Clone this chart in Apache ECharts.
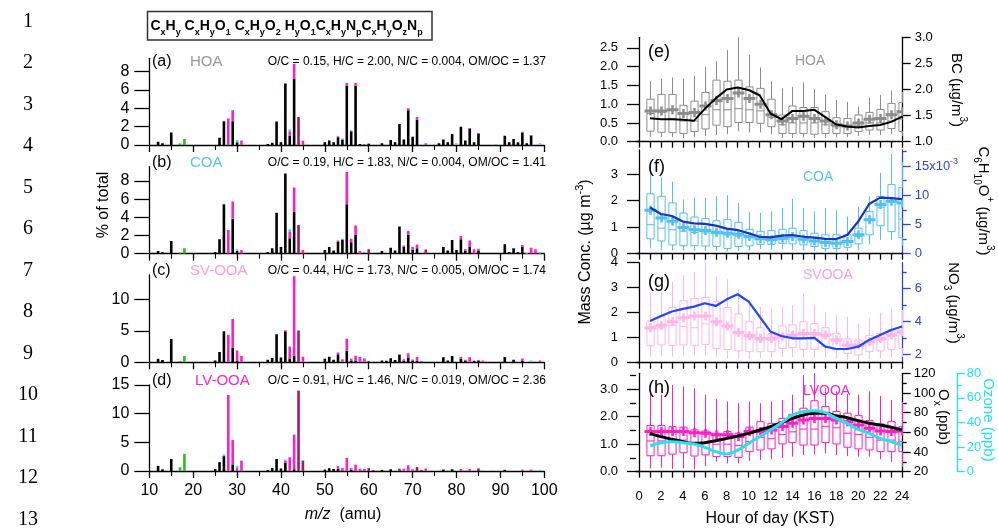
<!DOCTYPE html>
<html>
<head>
<meta charset="utf-8">
<script src="https://cdn.jsdelivr.net/npm/echarts@6/dist/echarts.min.js"></script>
<style>
  html, body { margin: 0; padding: 0; background: #fff; }
  #chart { width: 998px; height: 529px; }
</style>
</head>
<body>
<div id="chart"></div>
<script>
// ---------- Mass spectra: fraction of total signal (%) per m/z, by ion family ----------
const mzTickLabels = [10, 20, 30, 40, 50, 60, 70, 80, 90, 100];

// HOA
const hoaCxHy = [[12,0.35],[13,0.2],[15,1.35],[26,0.8],[27,2.6],[29,2.6],[30,0.3],[37,0.1],[38,0.25],[39,2.55],[40,0.3],[41,6.65],[42,1.0],[43,7.2],[50,0.3],[51,0.5],[52,0.3],[53,0.85],[54,0.6],[55,6.45],[56,1.5],[57,6.45],[58,0.1],[60,0.1],[63,0.2],[65,0.55],[66,0.3],[67,2.3],[68,0.6],[69,3.8],[70,0.9],[71,2.75],[76,0.2],[77,0.6],[78,0.3],[79,1.2],[81,2.0],[82,0.5],[83,1.75],[84,0.3],[85,1.25],[91,1.0],[92,0.3],[93,0.65],[94,0.3],[95,1.35],[96,0.2],[97,1.05]];
const hoaCxHyO1 = [[28,2.9],[29,1.2],[31,0.5],[41,0.1],[42,0.5],[43,1.65],[45,0.45],[53,0.1],[55,0.3],[57,0.3],[59,0.1],[69,0.2],[71,0.3],[73,0.2],[83,0.1],[85,0.05],[95,0.1]];
const hoaCxHyO2 = [[44,3.05],[60,0.05]];
const hoaHyO1 = [[47,0.05]];
const hoaCxHyNp = [[17,0.15],[18,0.65]];
const hoaCxHyOzNp = [[27,0.05],[30,0.25],[42,0.2],[46,0.05],[54,0.1],[56,0.1],[80,0.2],[89,0.1],[97,0.05],[99,0.2]];

// COA
const coaCxHy = [[12,0.3],[13,0.15],[15,1.4],[25,0.2],[26,1.6],[27,5.45],[29,3.85],[30,0.3],[37,0.2],[38,0.6],[39,4.5],[40,0.75],[41,8.8],[42,1.7],[43,4.6],[50,0.4],[51,0.75],[52,0.35],[53,1.35],[54,1.55],[55,5.45],[56,1.25],[57,2.1],[59,0.1],[63,0.3],[65,0.65],[66,0.35],[67,3.0],[68,0.75],[69,2.1],[70,0.45],[71,0.6],[77,0.75],[78,0.35],[79,1.5],[80,0.4],[81,1.6],[82,0.3],[83,0.8],[85,0.3],[89,0.05],[91,1.05],[92,0.2],[93,0.6],[94,0.15],[95,0.75]];
const coaCxHyO1 = [[28,2.6],[29,1.9],[31,0.4],[41,0.1],[42,0.7],[43,2.7],[45,0.4],[53,0.1],[55,3.55],[56,0.4],[57,1.0],[58,0.3],[68,0.15],[69,0.4],[70,0.3],[71,0.4],[81,0.35],[82,0.2],[83,0.65],[84,0.5],[85,0.25],[95,0.2],[97,0.65],[98,0.5]];
const coaCxHyO2 = [[44,3.15],[60,0.5],[73,0.45]];
const coaHyO1 = [[96,0.2]];
const coaCxHyNp = [[17,0.1],[18,0.6]];
const coaCxHyOzNp = [[27,0.05],[30,0.2],[42,0.3],[54,0.1],[99,0.1]];

// SV-OOA
const svCxHy = [[12,0.55],[13,0.35],[15,3.7],[25,0.3],[26,1.65],[27,4.95],[29,2.35],[30,0.3],[37,0.4],[38,0.7],[39,4.45],[40,0.75],[41,4.95],[42,0.6],[43,1.0],[50,0.55],[51,0.9],[52,0.4],[53,1.3],[55,1.85],[56,0.3],[57,0.3],[63,0.3],[64,0.25],[65,0.65],[66,0.35],[67,1.2],[68,0.3],[69,0.75],[70,0.3],[71,0.3],[77,0.8],[78,0.3],[79,1.0],[81,0.6],[82,0.2],[84,0.25],[85,0.2],[91,0.85],[93,0.4],[95,0.2]];
const svCxHyO1 = [[28,4.4],[29,4.55],[30,1.55],[31,1.0],[41,0.15],[42,1.85],[43,12.7],[45,0.9],[53,0.25],[54,0.5],[55,1.9],[56,0.25],[57,0.75],[58,0.85],[59,0.6],[67,0.1],[68,0.2],[69,0.7],[70,0.15],[71,0.55],[81,0.3],[82,0.2],[83,0.8],[85,0.15],[86,0.3],[95,0.4],[99,0.3]];
const svCxHyO2 = [[44,5.05],[60,0.2],[72,0.15]];
const svHyO1 = [[46,0.2],[96,0.2]];
const svCxHyNp = [[17,0.2],[18,1.0]];
const svCxHyOzNp = [[30,0.05],[42,0.1],[43,0.1],[44,0.1],[97,0.3]];

// LV-OOA
const lvCxHy = [[12,0.9],[13,0.3],[15,2.1],[25,0.35],[26,1.55],[27,2.6],[29,1.15],[37,0.15],[38,0.5],[39,2.1],[40,0.45],[41,1.4],[43,0.3],[50,0.25],[51,0.5],[52,0.35],[53,0.4],[56,0.2],[63,0.2],[65,0.3],[77,0.25],[79,0.3],[91,0.2]];
const lvCxHyO1 = [[28,13.25],[29,4.25],[30,0.5],[31,1.8],[41,0.45],[42,2.4],[43,6.0],[53,0.45],[54,0.5],[55,2.3],[56,0.3],[57,1.1],[58,0.4],[59,0.35],[68,0.4],[69,1.0],[70,0.3],[73,0.45],[81,0.35],[83,0.35],[95,0.25],[97,0.25]];
const lvCxHyO2 = [[44,14.0],[45,1.8],[60,0.5],[61,0.15],[67,0.4],[71,0.7],[72,0.2],[85,0.45]];
const lvHyO1 = [[46,0.2],[75,0.15],[87,0.15],[89,0.15]];
const lvCxHyNp = [[17,0.65],[18,3.0]];
const lvCxHyOzNp = [[27,0.3],[30,0.4],[41,0.15],[43,0.1],[44,0.1],[45,0.1],[99,0.2]];

const factorNames = ['HOA', 'COA', 'SV-OOA', 'LV-OOA'];
const ratioTexts = [
  'O/C = 0.15, H/C = 2.00, N/C = 0.004, OM/OC = 1.37',
  'O/C = 0.19, H/C = 1.83, N/C = 0.004, OM/OC = 1.41',
  'O/C = 0.44, H/C = 1.73, N/C = 0.005, OM/OC = 1.74',
  'O/C = 0.91, H/C = 1.46, N/C = 0.019, OM/OC = 2.36'
];

// ---------- Diurnal cycles (hour of day, KST) ----------
const hours = [1,2,3,4,5,6,7,8,9,10,11,12,13,14,15,16,17,18,19,20,21,22,23,24];
const hourTickLabels = [0,2,4,6,8,10,12,14,16,18,20,22,24];

// HOA (µg m-3) and BC (µg/m3)
const hoaP10  = [0.13,0.12,0.12,0.10,0.12,0.15,0.18,0.20,0.28,0.25,0.25,0.20,0.10,0.10,0.12,0.10,0.10,0.12,0.12,0.15,0.18,0.18,0.20,0.15];
const hoaP25  = [0.28,0.25,0.24,0.22,0.27,0.34,0.44,0.40,0.51,0.51,0.49,0.40,0.22,0.22,0.22,0.20,0.22,0.22,0.22,0.27,0.31,0.31,0.35,0.27];
const hoaMed  = [0.75,0.78,0.62,0.55,0.55,0.72,0.85,0.85,0.88,0.85,0.82,0.65,0.45,0.50,0.50,0.50,0.45,0.40,0.38,0.42,0.50,0.50,0.55,0.60];
const hoaP75  = [1.13,1.26,1.26,0.97,1.08,1.31,1.64,1.61,1.64,1.46,1.42,1.13,0.71,0.95,0.91,0.91,0.80,0.64,0.62,0.71,0.78,0.86,1.02,1.04];
const hoaP90  = [1.61,1.68,1.71,1.68,1.75,1.99,2.15,2.44,2.79,2.32,1.98,1.61,1.42,1.46,1.58,1.40,1.26,1.11,1.06,0.93,1.17,1.24,1.36,1.33];
const hoaMean = [0.82,0.82,0.85,0.75,0.78,0.95,1.10,1.15,1.30,1.15,1.00,0.72,0.55,0.62,0.68,0.62,0.55,0.45,0.42,0.50,0.60,0.62,0.72,0.80];
const bcConc  = [1.45,1.43,1.43,1.42,1.40,1.63,1.83,2.00,2.04,1.99,1.89,1.54,1.43,1.59,1.59,1.61,1.47,1.33,1.29,1.27,1.30,1.32,1.38,1.48];

// COA (µg m-3) and C6H10O+ (10^-3 µg/m3)
const coaP10  = [0.20,0.15,0.12,0.12,0.12,0.10,0.10,0.08,0.10,0.12,0.18,0.15,0.18,0.15,0.12,0.10,0.08,0.08,0.10,0.15,0.35,0.52,0.51,0.30];
const coaP25  = [0.56,0.48,0.33,0.30,0.30,0.29,0.27,0.20,0.27,0.29,0.35,0.35,0.39,0.37,0.33,0.27,0.20,0.20,0.24,0.37,0.71,1.05,0.83,0.60];
const coaMed  = [1.09,0.96,0.90,0.85,0.80,0.78,0.75,0.70,0.66,0.60,0.55,0.50,0.55,0.60,0.52,0.45,0.40,0.38,0.42,0.65,1.25,1.75,1.95,1.30];
const coaP75  = [2.25,2.16,1.91,1.53,1.38,1.32,1.24,1.28,1.18,0.92,0.84,0.87,0.92,0.96,0.87,0.77,0.71,0.71,0.71,0.96,1.59,2.16,2.60,2.48];
const coaP90  = [3.46,2.86,2.71,2.04,2.10,2.10,2.16,2.20,1.91,1.56,1.53,1.59,1.72,2.06,1.72,1.59,1.72,1.63,1.40,1.75,2.16,3.05,3.75,3.45];
const coaMean = [1.63,1.34,1.22,0.99,0.90,0.87,0.81,0.77,0.73,0.65,0.56,0.52,0.58,0.65,0.54,0.48,0.42,0.39,0.46,0.71,1.28,1.85,1.97,1.91];
const c6h10o  = [7.9,6.8,6.45,5.5,5.2,5.1,4.8,4.3,4.05,3.5,2.9,2.8,3.1,3.2,2.9,2.75,2.55,2.5,3.2,5.5,8.5,9.6,9.5,9.35];

// SVOOA (µg m-3) and NO3 (µg/m3)
const svP10  = [0.24,0.25,0.25,0.28,0.28,0.30,0.22,0.18,0.15,0.15,0.18,0.18,0.22,0.22,0.20,0.18,0.20,0.15,0.12,0.10,0.15,0.18,0.20,0.22];
const svP25  = [0.68,0.71,0.68,0.71,0.68,0.73,0.57,0.53,0.47,0.44,0.44,0.44,0.57,0.60,0.53,0.53,0.64,0.51,0.37,0.31,0.44,0.47,0.53,0.57];
const svMed  = [1.35,1.40,1.50,1.45,1.40,1.55,1.55,1.40,1.15,1.00,0.90,0.90,1.00,1.05,1.10,1.10,1.05,0.85,0.65,0.65,0.80,0.90,1.05,1.15];
const svP75  = [1.67,1.84,2.21,2.48,2.57,2.61,2.44,2.21,1.95,1.64,1.40,1.17,1.47,1.51,1.64,1.57,1.40,1.17,0.95,0.91,1.08,1.17,1.31,1.44];
const svP90  = [2.77,2.84,3.24,3.50,3.64,3.97,3.44,3.33,2.91,2.51,2.24,2.17,2.24,2.31,2.77,2.31,2.04,1.91,1.84,1.57,1.77,2.00,2.17,2.11];
const svMean = [1.40,1.50,1.64,1.80,1.87,1.87,1.64,1.47,1.21,1.08,0.97,0.97,1.04,1.11,1.17,1.17,1.11,0.91,0.71,0.71,0.84,0.97,1.11,1.24];
const no3    = [4.02,4.32,4.59,4.75,4.89,5.09,4.93,5.33,5.64,5.19,4.28,3.37,3.11,2.97,2.97,2.99,2.46,2.32,2.32,2.46,2.87,3.17,3.47,3.68];

// LVOOA (µg m-3), Ox and ozone (ppb)
const lvP10  = [0.12,0.15,0.10,0.12,0.10,0.20,0.36,0.30,0.30,0.40,0.43,0.45,0.50,0.55,0.60,0.62,0.67,0.60,0.57,0.55,0.55,0.45,0.36,0.18];
const lvP25  = [0.58,0.58,0.64,0.69,0.57,0.61,0.55,0.55,0.52,0.73,0.79,0.83,1.01,1.06,0.97,0.97,1.06,1.01,0.89,0.83,0.79,0.73,0.73,0.73];
const lvMed  = [1.12,1.12,1.15,1.15,1.05,1.05,1.00,1.00,0.95,1.10,1.25,1.20,1.35,1.45,1.55,1.55,1.65,1.60,1.40,1.35,1.25,1.15,1.15,1.10];
const lvP75  = [1.68,1.68,1.64,1.62,1.52,1.48,1.40,1.46,1.40,1.62,1.82,1.76,1.94,2.09,2.31,2.58,2.37,2.19,2.13,2.04,1.86,1.74,1.82,1.64];
const lvP90  = [2.86,2.80,3.16,3.10,3.04,2.80,2.64,2.55,2.49,2.55,2.49,2.55,2.61,2.80,3.52,3.65,3.04,2.92,2.83,2.80,2.92,2.76,2.61,2.55];
const lvMean = [1.46,1.46,1.46,1.46,1.42,1.40,1.34,1.34,1.28,1.46,1.46,1.52,1.64,1.76,1.88,1.94,1.94,1.88,1.82,1.70,1.58,1.48,1.46,1.48];
const oxPpb    = [59,55.6,52.9,50.5,48.8,49.5,51.5,53.9,56.3,59,62.4,65.8,69.8,74.2,77.6,79.3,79.3,76.9,74.9,71.9,69.2,67.5,65.1,62.4];
const ozonePpb = [20.9,23.6,24.4,23.6,22.5,19.8,16.3,14.4,17.6,23,28.5,33.9,39.8,46.1,48.8,49.6,48,43.4,39.3,34.4,31.2,27.1,24.4,21.7];

// ---------- styling ----------
const FONT = '"Liberation Sans", Arial, Helvetica, sans-serif';
const familyColors = ['#000000', '#ff1ec8', '#a3186f', '#ffb8e8', '#22c022', '#22ddee'];
const BLUE = '#2a48d8';
const CYAN = '#22e4f0';

const spectra = [
  [hoaCxHy, hoaCxHyO1, hoaCxHyO2, hoaHyO1, hoaCxHyNp, hoaCxHyOzNp],
  [coaCxHy, coaCxHyO1, coaCxHyO2, coaHyO1, coaCxHyNp, coaCxHyOzNp],
  [svCxHy, svCxHyO1, svCxHyO2, svHyO1, svCxHyNp, svCxHyOzNp],
  [lvCxHy, lvCxHyO1, lvCxHyO2, lvHyO1, lvCxHyNp, lvCxHyOzNp]
];

// Stack the ion families at each unit mass: rows of [m/z, base, value]
function stackFamilies(families) {
  const base = new Map();
  return families.map(pairs => pairs.map(([mz, v]) => {
    const b = base.get(mz) || 0;
    base.set(mz, b + v);
    return [mz, b, v];
  }));
}

const leftGrids = [
  { top: 58.3, height: 86.7, max: 9.45, ticks: [0, 2, 4, 6, 8] },
  { top: 166.7, height: 87, max: 9.58, ticks: [0, 2, 4, 6, 8] },
  { top: 275, height: 87.3, max: 13.9, ticks: [0, 5, 10] },
  { top: 385, height: 86, max: 15.0, ticks: [0, 5, 10, 15] }
];
const rightGrids = [
  { top: 37.3, height: 104.4 },
  { top: 150, height: 103.7 },
  { top: 262.7, height: 100 },
  { top: 373.3, height: 98.4 }
];

const grid = [];
const xAxis = [];
const yAxis = [];
const series = [];

function yAx(gridIndex, min, max, o) {
  const color = o.color || '#000';
  return {
    type: 'value', gridIndex, min, max,
    position: o.position || 'left',
    offset: o.offset || 0,
    splitLine: { show: false },
    axisLine: { show: o.line !== false, lineStyle: { color, width: 1.3 } },
    axisTick: { show: true, inside: false, length: o.tickLen || 12, customValues: o.ticks, lineStyle: { color, width: 1.3 } },
    axisLabel: o.labels ? {
      show: true, customValues: o.labels, color, fontFamily: FONT, fontSize: o.fontSize || 13,
      margin: o.margin || 16, formatter: o.formatter, rich: o.rich
    } : { show: false }
  };
}

// one stick per m/z, sitting on top of the families below it
function stickGlyph(color) {
  return function (params, api) {
    const v = api.value(2);
    if (!v) return null;
    const mz = api.value(0), b = api.value(1);
    const p0 = api.coord([mz, b]);
    const p1 = api.coord([mz, b + v]);
    return {
      type: 'rect',
      shape: { x: p0[0] - 1.3, y: p1[1], width: 2.6, height: Math.max(0.6, p0[1] - p1[1]) },
      style: { fill: color }
    };
  };
}

// Left column: stacked mass spectra
leftGrids.forEach((g, i) => {
  grid.push({ left: 149.3, width: 395, top: g.top, height: g.height });
  xAxis.push({
    type: 'value', gridIndex: i, min: 10, max: 100, interval: 10,
    splitLine: { show: false },
    axisLine: { show: true, onZero: false, lineStyle: { color: '#000', width: 1.3 } },
    axisTick: { show: true, length: 7, lineStyle: { color: '#000', width: 1.3 } },
    minorTick: { show: true, splitNumber: 2, length: 5, lineStyle: { color: '#000', width: 1.1 } },
    axisLabel: i === 3 ? { show: true, color: '#000', fontFamily: FONT, fontSize: 16, margin: 12, customValues: mzTickLabels } : { show: false }
  });
  yAxis.push(yAx(i, 0, g.max, { ticks: g.ticks, labels: g.ticks, tickLen: 15, fontSize: 16, margin: 20 }));
  stackFamilies(spectra[i]).forEach((rows, k) => {
    series.push({
      type: 'custom', xAxisIndex: i, yAxisIndex: i, silent: true, animation: false, clip: true,
      renderItem: stickGlyph(familyColors[k]), encode: { x: 0, y: 1 },
      dimensions: ['mz', 'base', 'value'],
      data: rows, z: 3
    });
  });
});

// Right column: diurnal boxes
const hourTicks = [];
for (let h = 0; h <= 24; h++) hourTicks.push(h);
rightGrids.forEach((g, j) => {
  const gi = 4 + j;
  grid.push({ left: 636, width: 266.7, top: g.top, height: g.height });
  xAxis.push({
    type: 'value', gridIndex: gi, min: -0.28, max: 24.06,
    splitLine: { show: false },
    axisLine: { show: true, onZero: false, lineStyle: { color: '#000', width: 1.3 } },
    axisTick: { show: true, length: 6, customValues: hourTicks, lineStyle: { color: '#000', width: 1.3 } },
    axisLabel: j === 3 ? { show: true, color: '#000', fontFamily: FONT, fontSize: 13, margin: 18, customValues: hourTickLabels } : { show: false }
  });
});

// y axes of the diurnal panels
const Y = {};
Y.eL = yAxis.length; yAxis.push(yAx(4, 0, 2.78, { ticks: [0, 0.5, 1, 1.5, 2, 2.5], labels: [0, 0.5, 1, 1.5, 2, 2.5], formatter: v => v.toFixed(1), margin: 18, tickLen: 12 }));
Y.eR = yAxis.length; yAxis.push(yAx(4, 1, 3, { position: 'right', ticks: [1, 1.5, 2, 2.5, 3], labels: [1, 1.5, 2, 2.5, 3], formatter: v => v.toFixed(1), tickLen: 8, margin: 12 }));
Y.fL = yAxis.length; yAxis.push(yAx(5, 0, 3.9, { ticks: [0, 1, 2, 3], labels: [0, 1, 2, 3], margin: 18, tickLen: 12 }));
Y.fR = yAxis.length; yAxis.push(yAx(5, 0, 17.75, {
  position: 'right', color: BLUE, ticks: [0, 5, 10, 15], labels: [0, 5, 10, 15], tickLen: 8, margin: 12,
  formatter: v => (v === 15 ? '{n|15x10}{s|-3}' : String(v)),
  rich: { n: { fontSize: 13, fontFamily: FONT, color: BLUE, lineHeight: 18 }, s: { fontSize: 9, fontFamily: FONT, color: BLUE, lineHeight: 9, verticalAlign: 'top' } }
}));
yAxis.push(yAx(5, 0, 17.75, { position: 'right', color: BLUE, line: false, ticks: [2.5, 7.5, 12.5, 17.5], tickLen: 4 }));
Y.gL = yAxis.length; yAxis.push(yAx(6, 0, 4, { ticks: [0, 1, 2, 3, 4], labels: [0, 1, 2, 3, 4], margin: 18, tickLen: 12 }));
Y.gR = yAxis.length; yAxis.push(yAx(6, 1.49, 7.55, { position: 'right', color: BLUE, ticks: [2, 4, 6], labels: [2, 4, 6], tickLen: 8, margin: 12 }));
yAxis.push(yAx(6, 1.49, 7.55, { position: 'right', color: BLUE, line: false, ticks: [3, 5, 7], tickLen: 4 }));
Y.hL = yAxis.length; yAxis.push(yAx(7, 0, 3.58, { ticks: [0, 1, 2, 3], labels: [0, 1, 2, 3], formatter: v => v.toFixed(1), margin: 18, tickLen: 12 }));
yAxis.push(yAx(7, 0, 3.58, { line: false, ticks: [0.5, 1.5, 2.5, 3.5], tickLen: 6 }));
Y.hOx = yAxis.length; yAxis.push(yAx(7, 20, 120, { position: 'right', ticks: [20, 40, 60, 80, 100, 120], labels: [20, 40, 60, 80, 100, 120], tickLen: 8, margin: 11 }));
yAxis.push(yAx(7, 20, 120, { position: 'right', line: false, ticks: [30, 50, 70, 90, 110], tickLen: 4 }));
Y.hO3 = yAxis.length; yAxis.push(yAx(7, 0, 80, { position: 'right', offset: 55, color: CYAN, ticks: [0, 20, 40, 60, 80], labels: [0, 20, 40, 60, 80], tickLen: 7, margin: 9 }));
yAxis.push(yAx(7, 0, 80, { position: 'right', offset: 55, color: CYAN, line: false, ticks: [10, 30, 50, 70], tickLen: 4 }));

// Box-and-whisker glyph with a bold "+" marking the mean
function boxGlyph(color) {
  return function (params, api) {
    const x = api.value(0);
    const p = i => api.coord([x, api.value(i)]);
    const lo = p(1), q1 = p(2), md = p(3), q3 = p(4), hi = p(5), mn = p(6);
    const cx = Math.round(lo[0]) + 0.5, hw = 3.6;
    const thin = { stroke: color, lineWidth: 1, fill: null };
    return {
      type: 'group',
      children: [
        { type: 'line', shape: { x1: cx, y1: lo[1], x2: cx, y2: q1[1] }, style: thin },
        { type: 'line', shape: { x1: cx, y1: q3[1], x2: cx, y2: hi[1] }, style: thin },
        { type: 'rect', shape: { x: cx - hw, y: q3[1], width: 2 * hw, height: q1[1] - q3[1] }, style: { stroke: color, fill: 'none', lineWidth: 1 } },
        { type: 'line', shape: { x1: cx - hw, y1: md[1], x2: cx + hw, y2: md[1] }, style: thin },
        { type: 'line', shape: { x1: cx - 6, y1: mn[1], x2: cx + 6, y2: mn[1] }, style: { stroke: color, lineWidth: 3 } },
        { type: 'line', shape: { x1: cx, y1: mn[1] - 4.5, x2: cx, y2: mn[1] + 4.5 }, style: { stroke: color, lineWidth: 2.5 } }
      ]
    };
  };
}
function boxRows(p10, p25, med, p75, p90, mean) {
  return hours.map((h, i) => [h, p10[i], p25[i], med[i], p75[i], p90[i], mean[i]]);
}
function boxSeries(gi, yi, color, rows) {
  return {
    type: 'custom', xAxisIndex: gi, yAxisIndex: yi, clip: true, silent: true, animation: false,
    renderItem: boxGlyph(color), encode: { x: 0, y: [1, 2, 3, 4, 5, 6] }, data: rows, z: 2
  };
}
function lineSeries(gi, yi, color, width, values, smooth) {
  return {
    type: 'line', xAxisIndex: gi, yAxisIndex: yi, symbol: 'none', smooth: smooth || false,
    silent: true, animation: false, z: 5,
    lineStyle: { color, width }, data: hours.map((h, i) => [h, values[i]])
  };
}

series.push(boxSeries(4, Y.eL, '#8c8c8c', boxRows(hoaP10, hoaP25, hoaMed, hoaP75, hoaP90, hoaMean)));
series.push(lineSeries(4, Y.eR, '#000', 2, bcConc));
series.push(boxSeries(5, Y.fL, '#52bff2', boxRows(coaP10, coaP25, coaMed, coaP75, coaP90, coaMean)));
series.push(lineSeries(5, Y.fR, '#1a33b8', 2.2, c6h10o));
series.push(boxSeries(6, Y.gL, '#ffb6e6', boxRows(svP10, svP25, svMed, svP75, svP90, svMean)));
series.push(lineSeries(6, Y.gR, '#1e46ff', 2.2, no3));
series.push(boxSeries(7, Y.hL, '#ff1ec8', boxRows(lvP10, lvP25, lvMed, lvP75, lvP90, lvMean)));
series.push(lineSeries(7, Y.hOx, '#000', 3, oxPpb, 0.4));
series.push(lineSeries(7, Y.hO3, CYAN, 3, ozonePpb, 0.4));

// ---------- annotations ----------
const graphic = [];
function txt(x, y, text, o) {
  o = o || {};
  graphic.push({
    type: 'text', x, y, rotation: o.rotation || 0, silent: true, z: 10,
    style: {
      text, fill: o.color || '#000', font: (o.weight || 'normal') + ' ' + (o.size || 14) + 'px ' + (o.family || FONT),
      textAlign: o.align || 'left', textVerticalAlign: 'middle', rich: o.rich
    }
  });
}
function richSet(color, size, weight) {
  const w = weight || 'normal';
  return {
    b: { fontSize: size, fontFamily: FONT, fontWeight: w, color, lineHeight: size + 8 },
    d: { fontSize: Math.round(size * 0.66), fontFamily: FONT, fontWeight: w, color, lineHeight: Math.round(size * 0.6), verticalAlign: 'bottom' },
    u: { fontSize: Math.round(size * 0.66), fontFamily: FONT, fontWeight: w, color, lineHeight: Math.round(size * 0.6), verticalAlign: 'top' }
  };
}

// line numbers in the margin
for (let n = 1; n <= 13; n++) txt(28, 21.5 + (n - 1) * 41.5, String(n), { size: 20, family: '"Liberation Serif", "DejaVu Serif", serif', align: 'center' });

// legend of ion families
graphic.push({ type: 'rect', shape: { x: 147.5, y: 11.5, width: 284.5, height: 28.5 }, style: { fill: '#fff', stroke: '#333', lineWidth: 1.5 }, silent: true, z: 9 });
const legRich = {};
const legendKeys = ['k', 'm', 'p', 'l', 'g', 'c'];
const legendColors = ['#000000', '#ff22cc', '#c8108c', '#ffbde9', '#22bb22', '#22ddee'];
legendKeys.forEach((k, i) => {
  const r = richSet(legendColors[i], 14, 'bold');
  legRich[k] = r.b; legRich[k + 's'] = r.d;
});
txt(150.5, 26, '{k|C}{ks|x}{k|H}{ks|y} {m|C}{ms|x}{m|H}{ms|y}{m|O}{ms|1} {p|C}{ps|x}{p|H}{ps|y}{p|O}{ps|2} {l|H}{ls|y}{l|O}{ls|1}{g|C}{gs|x}{g|H}{gs|y}{g|N}{gs|p}{c|C}{cs|x}{c|H}{cs|y}{c|O}{cs|z}{c|N}{cs|p}', { rich: legRich });

// spectra panel labels
const specLabelY = [62, 162.5, 271, 381];
const specNameColors = ['#999999', '#55c3f4', '#ff9ede', '#ff22cc'];
['(a)', '(b)', '(c)', '(d)'].forEach((s, i) => {
  txt(152, specLabelY[i], s, { size: 16 });
  txt(i === 3 ? 195 : 190, specLabelY[i], factorNames[i], { size: 15, color: specNameColors[i] });
  txt(546, specLabelY[i], ratioTexts[i], { size: 12, align: 'right' });
});
txt(104, 205, '% of total', { size: 16, align: 'center', rotation: Math.PI / 2 });
txt(343, 515, '{i|m/z}{n|  (amu)}', {
  align: 'center',
  rich: { i: { fontSize: 16, fontFamily: FONT, fontStyle: 'italic', color: '#000' }, n: { fontSize: 16, fontFamily: FONT, color: '#000' } }
});

// diurnal panel labels
const diuLetterY = [52, 167, 282, 388];
const diuNameY = [61, 177, 275, 391];
const diuNames = ['HOA', 'COA', 'SVOOA', 'LVOOA'];
const diuNameColors = ['#999999', '#55c3f4', '#ff9ede', '#ff22cc'];
['(e)', '(f)', '(g)', '(h)'].forEach((s, i) => {
  txt(648, diuLetterY[i], s, { size: 18 });
  txt(i === 0 ? 795 : 803, diuNameY[i], diuNames[i], { size: 14, color: diuNameColors[i] });
});

const rb = richSet('#000', 16);
txt(586, 252, '{b|Mass Conc. (µg m}{u|-3}{b|)}', { align: 'center', rotation: Math.PI / 2, rich: rb });
txt(770, 519, 'Hour of day (KST)', { size: 16, align: 'center' });
txt(956, 90, '{b|BC (µg/m}{u|3}{b|)}', { align: 'center', rotation: -Math.PI / 2, rich: richSet('#000', 15) });
txt(983, 201, '{b|C}{d|6}{b|H}{d|10}{b|O}{u|+}{b| (µg/m}{u|3}{b|)}', { align: 'center', rotation: -Math.PI / 2, rich: richSet(BLUE, 15) });
txt(953, 303, '{b|NO}{d|3}{b| (µg/m}{u|3}{b|)}', { align: 'center', rotation: -Math.PI / 2, rich: richSet(BLUE, 15) });
txt(943, 417, '{b|O}{d|x}{b| (ppb)}', { align: 'center', rotation: -Math.PI / 2, rich: richSet('#000', 15) });
txt(988, 420, 'Ozone (ppb)', { size: 15, color: CYAN, align: 'center', rotation: -Math.PI / 2 });

const chart = echarts.init(document.getElementById('chart'), null, { renderer: 'canvas' });
chart.setOption({
  animation: false,
  backgroundColor: '#ffffff',
  textStyle: { fontFamily: FONT },
  grid, xAxis, yAxis, series, graphic
});
</script>
</body>
</html>
